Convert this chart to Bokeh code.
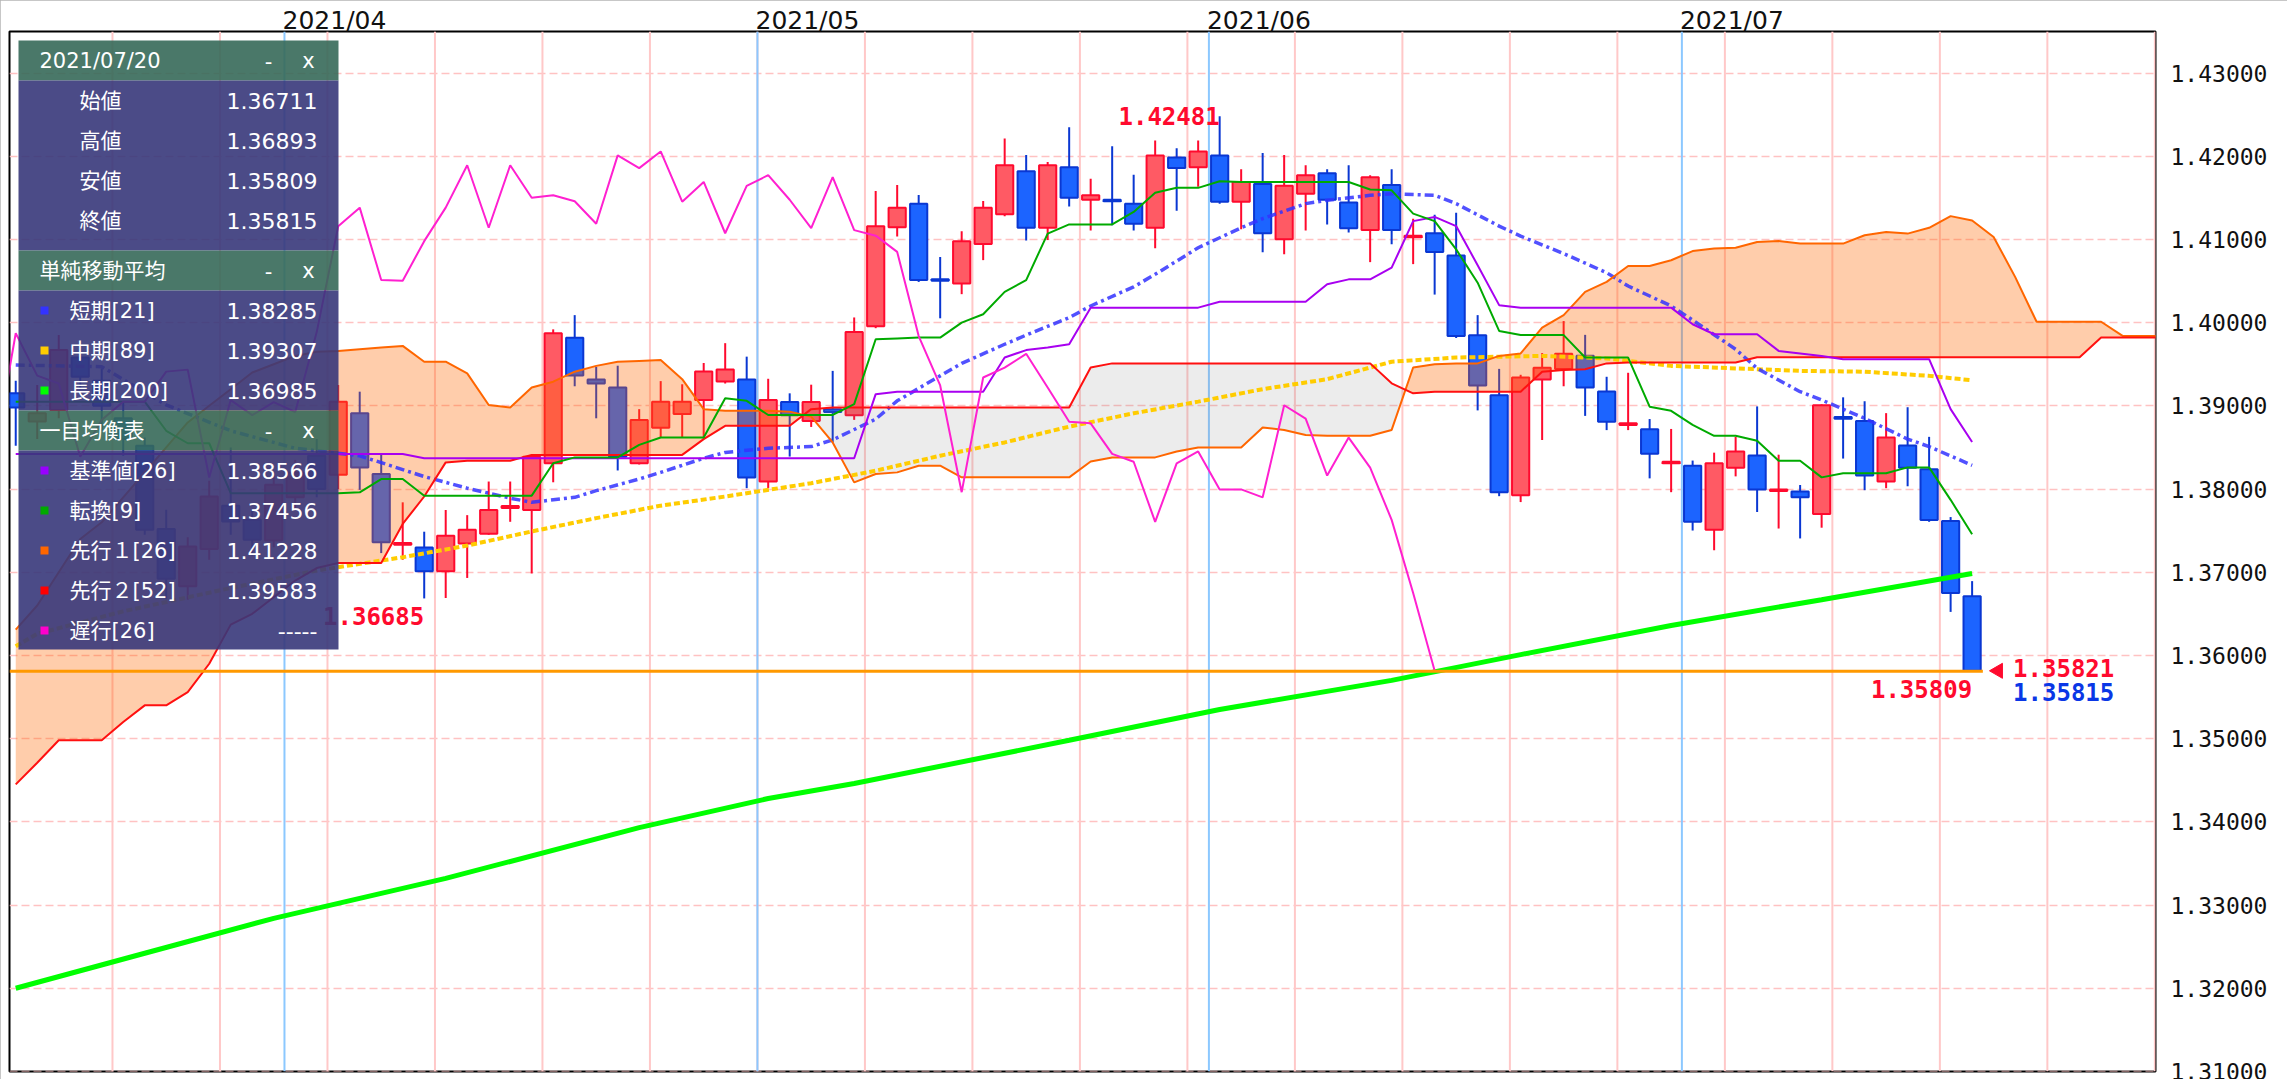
import numpy as np
import pandas as pd
from bokeh.plotting import figure
from bokeh.models import (Range1d, SingleIntervalTicker, PrintfTickFormatter, ColumnDataSource,
                          BoxAnnotation, LabelSet, LinearAxis, FixedTicker, CustomJSTickFormatter)
from bokeh.embed import file_html
from bokeh.resources import INLINE
from bokeh.core.properties import value

# ---------------------------------------------------------------- data
dates = pd.bdate_range("2021-03-15", "2021-07-20")          # candles
axis_dates = pd.bdate_range("2021-03-15", "2021-08-06")     # incl. future (cloud)

open_ = [1.3915,1.3881,1.3895,1.3958,1.3930,1.3885,1.3852,1.3752,1.3683,1.3728,
         1.3780,1.3763,1.3738,1.3790,1.3840,1.3817,1.3891,1.3818,1.3733,1.37297,
         1.37012,1.37344,1.37463,1.37772,1.37748,1.38309,1.39819,1.39316,1.39221,1.38309,
         1.38736,1.38903,1.39069,1.39292,1.39316,1.38090,1.39045,1.38817,1.38960,1.38888,
         1.39957,1.41145,1.41430,1.40522,1.40470,1.40945,1.41302,1.41819,1.41140,1.41867,
         1.41477,1.41477,1.41430,1.41140,1.41986,1.41867,1.42010,1.41454,1.41667,1.41002,
         1.41549,1.41796,1.41444,1.41112,1.41653,1.41026,1.41074,1.40808,1.39848,1.39126,
         1.37924,1.39316,1.39444,1.39601,1.39173,1.38770,1.38717,1.38309,1.38280,1.37511,
         1.38257,1.38404,1.37976,1.37971,1.37701,1.38865,1.38817,1.38090,1.38523,1.38238,
         1.37615,1.36711]
high = [1.3930,1.3925,1.3985,1.3975,1.3945,1.3905,1.3862,1.3775,1.3742,1.3810,
        1.3850,1.3775,1.3820,1.3835,1.3860,1.3925,1.3917,1.3841,1.3784,1.37487,
        1.37748,1.37686,1.38090,1.38090,1.38413,1.39919,1.40090,1.39468,1.39482,1.38960,
        1.39297,1.39259,1.39515,1.39753,1.39591,1.39325,1.39150,1.39254,1.39420,1.40062,
        1.41582,1.41653,1.41534,1.40789,1.41097,1.41463,1.42214,1.42014,1.41929,1.42347,
        1.41729,1.42119,1.41777,1.42190,1.42095,1.42190,1.42481,1.41843,1.42038,1.42014,
        1.41891,1.41843,1.41891,1.41772,1.41843,1.41249,1.41297,1.41321,1.40090,1.39444,
        1.39373,1.39634,1.40019,1.39853,1.39349,1.39397,1.38841,1.38722,1.38342,1.38437,
        1.38627,1.38993,1.38413,1.38048,1.39017,1.39102,1.39055,1.38912,1.38983,1.38627,
        1.37663,1.36893]
low = [1.3852,1.3860,1.3885,1.3920,1.3870,1.3840,1.3745,1.3668,1.3667,1.3715,
       1.3745,1.3720,1.3730,1.3775,1.3790,1.3800,1.3799,1.3723,1.3715,1.36685,
       1.36690,1.36931,1.37450,1.37606,1.36985,1.38081,1.39235,1.38850,1.38223,1.38295,
       1.38613,1.38613,1.38603,1.39268,1.38010,1.38010,1.38390,1.38746,1.38556,1.38831,
       1.39933,1.41036,1.40489,1.40052,1.40342,1.40751,1.41278,1.40988,1.40993,1.41397,
       1.41107,1.41169,1.41107,1.40893,1.41344,1.41634,1.41430,1.41121,1.40846,1.40822,
       1.41107,1.41178,1.41083,1.40727,1.40941,1.40703,1.40337,1.39815,1.38945,1.37914,
       1.37843,1.38589,1.39235,1.38879,1.38708,1.38708,1.38128,1.37962,1.37501,1.37264,
       1.38152,1.37724,1.37525,1.37406,1.37535,1.38366,1.37986,1.38010,1.38033,1.37606,
       1.36523,1.35809]
close = [1.3898,1.3891,1.3967,1.3935,1.3900,1.3860,1.3751,1.3692,1.3731,1.3791,
         1.3761,1.3739,1.3805,1.3820,1.3800,1.3905,1.3826,1.3736,1.3735,1.37012,
         1.37439,1.37511,1.37748,1.37796,1.38389,1.39872,1.39363,1.39268,1.38389,1.38831,
         1.39050,1.39050,1.39411,1.39435,1.38138,1.39069,1.38888,1.39045,1.38926,1.39886,
         1.41159,1.41382,1.40513,1.40504,1.40979,1.41382,1.41891,1.41140,1.41891,1.41501,
         1.41530,1.41458,1.41188,1.42010,1.41857,1.42057,1.41454,1.41691,1.41074,1.41644,
         1.41772,1.41477,1.41135,1.41748,1.41112,1.41045,1.40850,1.39838,1.39245,1.37962,
         1.39340,1.39458,1.39625,1.39221,1.38808,1.38789,1.38423,1.38328,1.37606,1.38309,
         1.38451,1.37995,1.37995,1.37900,1.39007,1.38846,1.38162,1.38618,1.38257,1.37629,
         1.36751,1.35815]
ask_price = 1.35821

# moving averages (read points: trading-day index, value)
sma21_idx = [0,4,7,10,13,16,19,21,23,24,26,27,29,30,32,33,35,37,38,40,41,43,44,46,47,49,50,52,53,55,
             57,58,60,61,63,64,66,67,69,70,72,74,75,77,78,80,81,83,84,86,88,89,91]
sma21_val = [1.3949,1.3947,1.3901,1.3870,1.3849,1.3840,1.3815,1.3801,1.3789,1.3784,
             1.3790,1.3798,1.3812,1.3820,1.3837,1.3844,1.3849,1.3851,1.3859,1.3884,
             1.3906,1.3936,1.3951,1.3974,1.3985,1.4006,1.4020,1.4043,1.4058,1.4090,
             1.4114,1.4125,1.4143,1.4147,1.4153,1.4155,1.4153,1.4143,1.4116,1.4104,
             1.4083,1.4060,1.4044,1.4020,1.4003,1.3968,1.3945,1.3917,1.3907,1.3885,
             1.3860,1.3851,1.38285]
sma89_idx = [0,1,5,10,14,18,21,24,27,30,33,37,40,43,46,49,52,55,58,61,63,64,67,71,74,77,80,83,86,89,91]
sma89_val = [1.3611,1.3626,1.3653,1.3681,1.3702,1.3718,1.3732,1.3749,1.3765,1.3780,
             1.3791,1.3807,1.3822,1.3840,1.3856,1.3875,1.3891,1.3905,1.3920,1.3932,
             1.3946,1.3953,1.3958,1.3960,1.3957,1.3948,1.3945,1.3942,1.3941,1.3936,1.39307]
sma200_idx = [0,6,12,20,29,35,39,49,56,64,70,77,84,91]
sma200_val = [1.3200,1.3242,1.3284,1.3332,1.3393,1.3428,1.3446,1.3498,1.3535,1.3570,
              1.3601,1.3636,1.3667,1.36985]

# ichimoku (one value per trading day)
tenkan = [1.3905,1.3905,1.3905,1.3905,1.3905,1.3905,1.3905,1.3870,1.3855,1.3855,
          1.3795,1.3795,1.3795,1.3795,1.3795,1.3795,1.3796,1.3812,1.3812,1.3792,
          1.3792,1.3792,1.3792,1.3792,1.3792,1.3831,1.3838,1.3838,1.3838,1.3853,
          1.3862,1.3862,1.3862,1.3909,1.3906,1.3889,1.3889,1.3889,1.3889,1.3902,
          1.3980,1.3981,1.3982,1.3982,1.4000,1.4010,1.4037,1.4051,1.4107,1.4118,
          1.4118,1.4118,1.4133,1.4156,1.4162,1.4162,1.4170,1.4169,1.4169,1.4169,
          1.4169,1.4169,1.4169,1.4160,1.4159,1.4131,1.4122,1.4088,1.4048,1.3990,
          1.3985,1.3985,1.3985,1.3958,1.3958,1.3958,1.3899,1.3894,1.3877,1.3864,
          1.3864,1.3858,1.3834,1.3834,1.3814,1.3819,1.3819,1.3819,1.3826,1.3826,
          1.3787,1.37456]
kijun = [1.3842,1.3842,1.3842,1.3842,1.3842,1.3842,1.3842,1.3842,1.3842,1.3842,
         1.3842,1.3842,1.3842,1.3842,1.3842,1.3842,1.3842,1.3842,1.3842,1.3837,
         1.3837,1.3837,1.3837,1.3837,1.3837,1.3837,1.3837,1.3837,1.3837,1.3837,
         1.3837,1.3837,1.3837,1.3837,1.3837,1.3837,1.3837,1.3837,1.3837,1.3837,
         1.3914,1.3917,1.3917,1.3917,1.3917,1.3917,1.3958,1.3967,1.3970,1.3974,
         1.4018,1.4018,1.4018,1.4018,1.4018,1.4018,1.4025,1.4025,1.4025,1.4025,
         1.4025,1.4046,1.4052,1.4052,1.4066,1.4122,1.4127,1.4116,1.4069,1.4021,
         1.4018,1.4018,1.4018,1.4018,1.4018,1.4018,1.4018,1.4018,1.3998,1.3986,
         1.3986,1.3986,1.3966,1.3963,1.3960,1.3956,1.3956,1.3956,1.3956,1.3956,
         1.3896,1.38566]
senkou_a = [1.3631,1.3660,1.3700,1.3740,1.3760,1.3790,1.3820,1.3850,1.3880,1.3900,
            1.3920,1.3940,1.3950,1.3960,1.3965,1.3966,1.3968,1.3970,1.3972,1.3953,
            1.3953,1.3939,1.3901,1.3898,1.3922,1.3929,1.3941,1.3948,1.3953,1.3954,
            1.3955,1.3932,1.3896,1.3894,1.3894,1.3894,1.3893,1.3887,1.3856,1.3808,
            1.3818,1.3820,1.3828,1.3828,1.3814,1.3814,1.3814,1.3814,1.3814,1.3814,
            1.3833,1.3838,1.3838,1.3838,1.3845,1.3850,1.3850,1.3850,1.3874,1.3871,
            1.3865,1.3864,1.3864,1.3864,1.3871,1.3946,1.3950,1.3951,1.3951,1.3960,
            1.3963,1.3994,1.4009,1.4037,1.4049,1.4068,1.4068,1.4075,1.4086,1.4089,
            1.4090,1.4097,1.4098,1.4095,1.4095,1.4095,1.4105,1.4109,1.4107,1.4114,
            1.4128,1.41228,1.4103,1.4055,1.4001,1.4001,1.4001,1.4001,1.3984,1.3984,
            1.3984]
senkou_b = [1.3445,1.3471,1.3498,1.3498,1.3498,1.3520,1.3540,1.3540,1.3556,1.3590,
            1.3637,1.3650,1.3670,1.3690,1.3705,1.3711,1.3711,1.3711,1.3758,1.3791,
            1.3832,1.3834,1.3834,1.3834,1.3841,1.3841,1.3841,1.3841,1.3841,1.3841,
            1.3841,1.3841,1.3860,1.3876,1.3876,1.3876,1.3876,1.3896,1.3898,1.3898,
            1.3898,1.3898,1.3898,1.3898,1.3898,1.3898,1.3898,1.3898,1.3898,1.3898,
            1.3946,1.3951,1.3951,1.3951,1.3951,1.3951,1.3951,1.3951,1.3951,1.3951,
            1.3951,1.3951,1.3951,1.3951,1.3927,1.3915,1.3917,1.3917,1.3917,1.3917,
            1.3917,1.3941,1.3943,1.3944,1.3951,1.3952,1.3952,1.3952,1.3952,1.3952,
            1.3952,1.39583,1.39583,1.39583,1.39583,1.39583,1.39583,1.39583,1.39583,1.39583,
            1.39583,1.39583,1.39583,1.39583,1.39583,1.39583,1.39583,1.3982,1.3982,1.3982,
            1.3982]
chikou_shift = 25
marked_lows = [19, 91]          # candles whose low is annotated

# ---------------------------------------------------------------- layout constants (page px)
FRAME_L, FRAME_T, FRAME_W, FRAME_H = 9, 31, 2146, 1040
X0, X1 = -0.29, 99.53
Y0, Y1 = 1.30999, 1.43499
SLOT = FRAME_W / (X1 - X0)
MONTH_LABEL_HALF = 50 / SLOT        # month labels start at their month line


def dx(px):
    return X0 + (px - FRAME_L) / FRAME_W * (X1 - X0)


def dy(py):
    return Y1 - (py - FRAME_T) / FRAME_H * (Y1 - Y0)


UP_FILL, UP_LINE = "#ff5a64", "#ff0a2e"
DN_FILL, DN_LINE = "#1c64ff", "#0a37d2"
FONT = "DejaVu Sans, Noto Sans CJK JP"
MONO = "DejaVu Sans Mono"

p = figure(frame_width=FRAME_W, frame_height=FRAME_H,
           x_range=Range1d(X0, X1), y_range=Range1d(Y0, Y1),
           x_axis_location=None, y_axis_location="right",
           toolbar_location=None, output_backend="svg", title=None,
           min_border_left=FRAME_L, min_border_right=132, min_border_top=FRAME_T,
           min_border_bottom=8)
p.background_fill_color = "white"
p.border_fill_color = "white"
p.outline_line_color = "black"
p.outline_line_width = 2
p.xgrid.grid_line_color = None
p.styles = {"outline": "2px solid #b4b4b4", "outline-offset": "-2px"}

yax = p.yaxis[0]
yax.ticker = SingleIntervalTicker(interval=0.01, num_minor_ticks=0)
yax.formatter = PrintfTickFormatter(format="%.5f")
yax.major_label_text_font = MONO
yax.major_label_text_font_size = "23px"
yax.major_label_text_color = "#111111"
yax.major_tick_line_color = None
yax.minor_tick_line_color = None
yax.major_tick_out = 0
yax.major_tick_in = 0
yax.minor_tick_out = 0
yax.axis_line_color = None
yax.major_label_standoff = 15
p.ygrid.grid_line_color = "#ffc2c2"
p.ygrid.grid_line_dash = "8 4"
p.ygrid.grid_line_width = 1.5

# ---------------------------------------------------------------- vertical week / month lines
mondays = [k - 0.5 for k, d in enumerate(axis_dates) if d.weekday() == 0]
month_pos, month_txt = [], []
for k in range(1, len(axis_dates)):
    if axis_dates[k].month != axis_dates[k - 1].month and k < len(dates):
        month_pos.append(k - 0.5)
        month_txt.append(axis_dates[k].strftime("%Y/%m"))
p.segment(x0=mondays, x1=mondays, y0=Y0, y1=Y1, line_color="#ffc8c8", line_width=2)
p.segment(x0=month_pos, x1=month_pos, y0=Y0, y1=Y1, line_color="#8cc8ff", line_width=2)

top_axis = LinearAxis(
    ticker=FixedTicker(ticks=[m + MONTH_LABEL_HALF for m in month_pos]),
    formatter=CustomJSTickFormatter(args=dict(labels=month_txt), code="return labels[index];"),
    major_tick_line_color=None, minor_tick_line_color=None, axis_line_color=None,
    major_tick_out=0, major_tick_in=0, minor_tick_out=0, minor_tick_in=0,
    major_label_standoff=-3, major_label_text_font="DejaVu Sans",
    major_label_text_font_size="25px", major_label_text_color="#111111")
p.add_layout(top_axis, "above")

# ---------------------------------------------------------------- candles
o, h, l, c = map(np.array, (open_, high, low, close))
idx = np.arange(len(c))
up = c >= o
src = ColumnDataSource(dict(
    x=idx, top=np.maximum(o, c), bottom=np.minimum(o, c), high=h, low=l,
    line=[UP_LINE if u else DN_LINE for u in up],
    fill=[UP_FILL if u else DN_FILL for u in up]))
p.segment(x0="x", x1="x", y0="low", y1="high", line_color="line", line_width=2, source=src)
p.vbar(x="x", width=0.8, top="top", bottom="bottom", fill_color="fill",
       line_color="line", line_width=2, source=src)

# ---------------------------------------------------------------- cloud
A = np.array(senkou_a)
B = np.array(senkou_b)
cx, ca, cb = [0.0], [A[0]], [B[0]]
for k in range(1, len(A)):
    d0, d1 = A[k - 1] - B[k - 1], A[k] - B[k]
    if d0 * d1 < 0:
        t = d0 / (d0 - d1)
        yc = A[k - 1] + t * (A[k] - A[k - 1])
        cx.append(k - 1 + t); ca.append(yc); cb.append(yc)
    cx.append(float(k)); ca.append(A[k]); cb.append(B[k])
ctop = np.maximum(ca, cb)
p.varea(x=cx, y1=cb, y2=ctop, fill_color="#ff6600", fill_alpha=0.33)
p.varea(x=cx, y1=ca, y2=ctop, fill_color="#808080", fill_alpha=0.15)

# ---------------------------------------------------------------- indicator lines
p.line(sma200_idx, sma200_val, line_color="#00ff00", line_width=5)
p.line(sma89_idx, sma89_val, line_color="#ffcc00", line_width=4, line_dash="6 3")
p.line(sma21_idx, sma21_val, line_color="#3333ff", line_width=3.5, line_alpha=0.85,
       line_dash="9 4 3 4")
ax_all = np.arange(len(A))
p.line(ax_all, A, line_color="#ff6600", line_width=2)
p.line(ax_all, B, line_color="#ff1010", line_width=2)
p.line(idx, kijun, line_color="#a800f0", line_width=2)
p.line(idx, tenkan, line_color="#00aa00", line_width=2)
ch_x = idx[chikou_shift - 1:] - chikou_shift
ch_y = c[chikou_shift - 1:]
p.line(ch_x, ch_y, line_color="#ff20d0", line_width=2)

# current low line
lo_min = float(l.min())
p.segment(x0=[X0], x1=[idx[-1] + 0.5], y0=[lo_min], y1=[lo_min], line_color="#ff9900", line_width=3)

# ---------------------------------------------------------------- price marks
hi_i = int(h.argmax())
p.text(x=[hi_i], y=[h[hi_i]], text=["%.5f" % h[hi_i]], text_align="right",
       text_baseline="alphabetic", text_color="#ff0a2e", text_font=value(MONO),
       text_font_style="bold", text_font_size="24px")
p.text(x=marked_lows, y=[l[k] for k in marked_lows], text=["%.5f" % l[k] for k in marked_lows],
       text_align="right", text_baseline="top", y_offset=9, text_color="#ff0a2e",
       text_font=value(MONO), text_font_style="bold", text_font_size="24px")
last = idx[-1]
p.scatter(x=[last + 26 / SLOT], y=[c[-1]], marker="triangle", size=15, angle=np.pi / 2,
          fill_color="#ff0a2e", line_color="#ff0a2e")
p.text(x=[last], y=[c[-1]], text=["%.5f" % ask_price], x_offset=41, y_offset=-3,
       text_align="left", text_baseline="alphabetic", text_color="#ff0a2e",
       text_font=value(MONO), text_font_style="bold", text_font_size="24px")
p.text(x=[last], y=[c[-1]], text=["%.5f" % c[-1]], x_offset=41, y_offset=21,
       text_align="left", text_baseline="alphabetic", text_color="#0a37e6",
       text_font=value(MONO), text_font_style="bold", text_font_size="24px")

# ---------------------------------------------------------------- info panel
HDR = "#366959"
BODY = "#37377a"
LEG_L, LEG_R = 18, 338
bands = [(40, 80, HDR), (80, 250, BODY), (250, 290, HDR), (290, 410, BODY),
         (410, 450, HDR), (450, 649, BODY)]
for top_px, bot_px, col in bands:
    p.add_layout(BoxAnnotation(left=dx(LEG_L), right=dx(LEG_R), top=dy(top_px), bottom=dy(bot_px),
                               fill_color=col, fill_alpha=0.9, line_color=None))

sec1_labels = ["始値", "高値", "安値", "終値"]
sec1_values = ["%.5f" % v for v in (o[-1], h[-1], l[-1], c[-1])]
sec2_labels = ["短期[21]", "中期[89]", "長期[200]"]
sec2_values = ["%.5f" % v for v in (sma21_val[-1], sma89_val[-1], sma200_val[-1])]
sec2_colors = ["#3333ff", "#ffcc00", "#00ff00"]
sec3_labels = ["基準値[26]", "転換[9]", "先行１[26]", "先行２[52]", "遅行[26]"]
sec3_values = ["%.5f" % kijun[-1], "%.5f" % tenkan[-1], "%.5f" % senkou_a[last],
               "%.5f" % senkou_b[last], "-----"]
sec3_colors = ["#9900ff", "#00aa00", "#ff6600", "#ff0000", "#ff00cc"]
headers = [dates[-1].strftime("%Y/%m/%d"), "単純移動平均", "一目均衡表"]

hdr_y = [60, 270, 430]
row1_y = [100, 140, 180, 220]
row2_y = [310, 350, 390]
row3_y = [470, 510, 550, 590, 630]


def add_texts(xs_px, ys_px, texts, align, size="21px"):
    s = ColumnDataSource(dict(x=[dx(v) for v in xs_px], y=[dy(v) for v in ys_px], text=texts))
    p.add_layout(LabelSet(x="x", y="y", text="text", source=s, text_align=align,
                          text_baseline="middle", text_font=value(FONT),
                          text_font_size=size, text_color="#ffffff"))


add_texts([39] * 3, hdr_y, headers, "left")
add_texts([268] * 3, hdr_y, ["-"] * 3, "center")
add_texts([308] * 3, hdr_y, ["x"] * 3, "center")
add_texts([79] * 4, row1_y, sec1_labels, "left")
add_texts([317] * 4, row1_y, sec1_values, "right", "22px")
add_texts([69] * 3, row2_y, sec2_labels, "left")
add_texts([317] * 3, row2_y, sec2_values, "right", "22px")
add_texts([69] * 5, row3_y, sec3_labels, "left")
add_texts([317] * 5, row3_y, sec3_values, "right", "22px")
p.scatter(x=[dx(44)] * 8, y=[dy(v) for v in row2_y + row3_y], marker="square", size=8,
          fill_color=sec2_colors + sec3_colors, line_color=None, level="overlay")

open("out.html", "w").write(file_html(p, INLINE))
